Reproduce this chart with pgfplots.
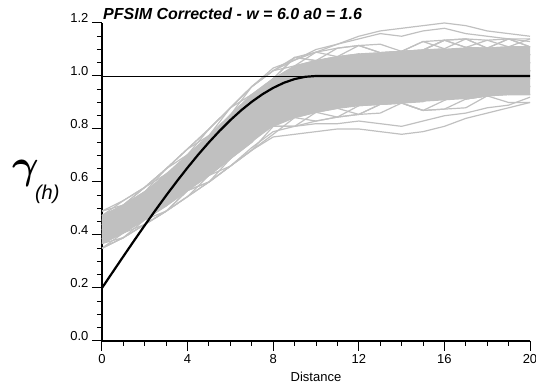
\documentclass[border=0pt]{standalone}
\usepackage{fontspec}
\setmainfont{Liberation Sans}
\usepackage{graphicx}
\usepackage{pgfplots}
\pgfplotsset{compat=1.18}
\definecolor{lgray}{RGB}{192,192,192}
\begin{document}
\begin{tikzpicture}[x=1pt,y=1pt]
\useasboundingbox (-102,-46) rectangle (434,341);
\begin{axis}[
  at={(0,0)}, anchor=south west,
  width=428pt, height=318pt, scale only axis,
  xmin=0, xmax=20, ymin=0, ymax=1.2,
  axis lines=left, axis line style={-, line width=1.4pt},
  xtick={0,4,8,12,16,20}, ytick={0,0.2,0.4,0.6,0.8,1.0,1.2},
  minor x tick num=3, minor y tick num=3,
  tick align=outside, major tick length=10pt, minor tick length=5pt,
  tick style={black, line width=1pt},
  ticklabel style={font=\fontsize{13}{13}\selectfont},
  /pgf/number format/assume math mode=true,
  yticklabel style={anchor=base east, font=\fontsize{13}{13}\selectfont, /pgf/number format/.cd, fixed, fixed zerofill, precision=1},
  xlabel={Distance},
  xlabel style={font=\fontsize{13}{13}\selectfont, at={(axis description cs:0.5,0)}, anchor=base, yshift=-41pt},
  gr/.style={color=lgray, line width=1.2pt},
]
% dense core of the realisation band
\addplot[fill=lgray, draw=none] coordinates {(0,.473)(1,.513)(2,.563)(3,.63)(4,.703)(5,.775)(6,.853)(7,.93)(8,.99)(9,1.038)(10,1.058)(11,1.073)(12,1.083)(13,1.088)(14,1.093)(15,1.098)(16,1.103)(17,1.108)(18,1.105)(19,1.11)(20,1.11)(20,.93)(19,.93)(18,.925)(17,.913)(16,.908)(15,.903)(14,.898)(13,.893)(12,.888)(11,.878)(10,.863)(9,.843)(8,.81)(7,.75)(6,.688)(5,.625)(4,.568)(3,.51)(2,.458)(1,.408)(0,.368)} -- cycle;
\addplot[gr] coordinates {(0,.49)(1,.53)(2,.58)(3,.63)(4,.703)(5,.80)(6,.88)(7,.96)(8,1.02)(9,1.038)(10,1.058)(11,1.105)(12,1.115)(13,1.088)(14,1.093)(15,1.13)(16,1.135)(17,1.14)(18,1.105)(19,1.11)(20,1.14)};
\addplot[gr] coordinates {(0,.473)(1,.513)(2,.58)(3,.65)(4,.725)(5,.775)(6,.853)(7,.93)(8,.96)(9,1.005)(10,1.058)(11,1.073)(12,1.115)(13,1.12)(14,1.093)(15,1.098)(16,1.07)(17,1.075)(18,1.105)(19,1.11)(20,1.11)};
\addplot[gr] coordinates {(0,.455)(1,.513)(2,.563)(3,.63)(4,.68)(5,.75)(6,.825)(7,.93)(8,.99)(9,1.07)(10,1.09)(11,1.073)(12,1.083)(13,1.055)(14,1.06)(15,1.098)(16,1.103)(17,1.14)(18,1.135)(19,1.14)(20,1.11)};
\addplot[gr] coordinates {(0,.455)(1,.495)(2,.545)(3,.59)(4,.658)(5,.75)(6,.825)(7,.90)(8,.93)(9,.973)(10,1.025)(11,1.04)(12,1.083)(13,1.088)(14,1.06)(15,1.065)(16,1.038)(17,1.043)(18,1.075)(19,1.08)(20,1.08)};
\addplot[gr] coordinates {(0,.438)(1,.478)(2,.545)(3,.61)(4,.68)(5,.725)(6,.798)(7,.87)(8,.96)(9,1.005)(10,.993)(11,1.008)(12,.985)(13,.99)(14,1.028)(15,1.033)(16,1.07)(17,1.075)(18,1.045)(19,1.05)(20,1.02)};
\addplot[gr] coordinates {(0,.438)(1,.478)(2,.528)(3,.57)(4,.635)(5,.725)(6,.798)(7,.90)(8,.96)(9,1.038)(10,1.058)(11,1.04)(12,1.05)(13,1.023)(14,1.028)(15,1.0)(16,1.005)(17,1.043)(18,1.045)(19,1.08)(20,1.08)};
\addplot[gr] coordinates {(0,.42)(1,.46)(2,.528)(3,.59)(4,.658)(5,.70)(6,.77)(7,.84)(8,.87)(9,.908)(10,.96)(11,.975)(12,1.018)(13,1.023)(14,.995)(15,1.0)(16,.973)(17,.978)(18,1.015)(19,1.02)(20,1.05)};
\addplot[gr] coordinates {(0,.42)(1,.46)(2,.51)(3,.55)(4,.613)(5,.70)(6,.77)(7,.87)(8,.93)(9,.94)(10,.96)(11,.943)(12,.953)(13,.99)(14,.995)(15,1.033)(16,1.038)(17,1.075)(18,1.075)(19,1.05)(20,1.05)};
\addplot[gr] coordinates {(0,.403)(1,.443)(2,.51)(3,.57)(4,.635)(5,.675)(6,.743)(7,.81)(8,.90)(9,.94)(10,.928)(11,.943)(12,.92)(13,.925)(14,.963)(15,.968)(16,1.005)(17,1.01)(18,.985)(19,.99)(20,1.02)};
\addplot[gr] coordinates {(0,.403)(1,.443)(2,.493)(3,.53)(4,.59)(5,.675)(6,.743)(7,.84)(8,.90)(9,.973)(10,.993)(11,.975)(12,.985)(13,.958)(14,.963)(15,.935)(16,.94)(17,.978)(18,.985)(19,1.02)(20,1.02)};
\addplot[gr] coordinates {(0,.385)(1,.425)(2,.493)(3,.55)(4,.613)(5,.65)(6,.715)(7,.78)(8,.87)(9,.908)(10,.895)(11,.91)(12,.888)(13,.893)(14,.93)(15,.935)(16,.973)(17,.978)(18,.955)(19,.96)(20,.99)};
\addplot[gr] coordinates {(0,.385)(1,.425)(2,.475)(3,.51)(4,.568)(5,.65)(6,.715)(7,.81)(8,.87)(9,.875)(10,.895)(11,.943)(12,.953)(13,.99)(14,.995)(15,.968)(16,.973)(17,.945)(18,.955)(19,.99)(20,.99)};
\addplot[gr] coordinates {(0,.368)(1,.408)(2,.475)(3,.53)(4,.59)(5,.625)(6,.688)(7,.75)(8,.84)(9,.875)(10,.863)(11,.878)(12,.855)(13,.86)(14,.898)(15,.903)(16,.94)(17,.945)(18,.925)(19,.93)(20,.96)};
\addplot[gr] coordinates {(0,.368)(1,.408)(2,.458)(3,.49)(4,.545)(5,.625)(6,.688)(7,.78)(8,.84)(9,.908)(10,.928)(11,.91)(12,.92)(13,.893)(14,.898)(15,.87)(16,.875)(17,.913)(18,.925)(19,.96)(20,.96)};
\addplot[gr] coordinates {(0,.35)(1,.39)(2,.458)(3,.51)(4,.568)(5,.60)(6,.66)(7,.72)(8,.81)(9,.843)(10,.83)(11,.845)(12,.855)(13,.893)(14,.898)(15,.935)(16,.94)(17,.913)(18,.925)(19,.90)(20,.90)};
\addplot[gr] coordinates {(0,.35)(1,.39)(2,.44)(3,.49)(4,.568)(5,.625)(6,.66)(7,.72)(8,.78)(9,.843)(10,.863)(11,.91)(12,.92)(13,.893)(14,.898)(15,.87)(16,.875)(17,.88)(18,.925)(19,.93)(20,.93)};
\addplot[gr] coordinates {(0,.49)(1,.513)(2,.563)(3,.61)(4,.68)(5,.775)(6,.853)(7,.96)(8,1.02)(9,1.07)(10,1.058)(11,1.073)(12,1.05)(13,1.055)(14,1.093)(15,1.098)(16,1.135)(17,1.14)(18,1.105)(19,1.08)(20,1.08)};
\addplot[gr] coordinates {(0,.473)(1,.495)(2,.545)(3,.61)(4,.703)(5,.775)(6,.88)(7,.93)(8,.96)(9,1.005)(10,.993)(11,1.008)(12,1.05)(13,1.055)(14,1.093)(15,1.098)(16,1.135)(17,1.108)(18,1.075)(19,1.08)(20,1.11)};
\addplot[gr] coordinates {(0,.455)(1,.478)(2,.528)(3,.59)(4,.68)(5,.75)(6,.853)(7,.93)(8,.96)(9,.973)(10,.993)(11,.975)(12,.985)(13,1.023)(14,1.028)(15,1.065)(16,1.07)(17,1.108)(18,1.105)(19,1.14)(20,1.11)};
\addplot[gr] coordinates {(0,.438)(1,.46)(2,.51)(3,.57)(4,.658)(5,.725)(6,.825)(7,.90)(8,.93)(9,.94)(10,.96)(11,.943)(12,.953)(13,.99)(14,.995)(15,1.033)(16,1.038)(17,1.075)(18,1.075)(19,1.05)(20,1.05)};
\addplot[gr] coordinates {(0,.42)(1,.443)(2,.493)(3,.55)(4,.635)(5,.70)(6,.798)(7,.87)(8,.90)(9,.908)(10,.928)(11,.91)(12,.92)(13,.958)(14,.963)(15,1.0)(16,1.005)(17,1.043)(18,1.045)(19,1.02)(20,.99)};
\addplot[gr] coordinates {(0,.403)(1,.425)(2,.475)(3,.53)(4,.613)(5,.675)(6,.77)(7,.84)(8,.87)(9,.875)(10,.895)(11,.878)(12,.888)(13,.925)(14,.93)(15,.968)(16,.973)(17,1.01)(18,1.015)(19,.99)(20,.96)};
\addplot[gr] coordinates {(0,.385)(1,.408)(2,.458)(3,.51)(4,.59)(5,.65)(6,.743)(7,.81)(8,.84)(9,.843)(10,.863)(11,.845)(12,.855)(13,.893)(14,.898)(15,.935)(16,.94)(17,.978)(18,.985)(19,.96)(20,.96)};
\addplot[gr] coordinates {(0,.368)(1,.39)(2,.44)(3,.49)(4,.568)(5,.625)(6,.715)(7,.78)(8,.81)(9,.81)(10,.83)(11,.845)(12,.888)(13,.893)(14,.93)(15,.935)(16,.973)(17,.978)(18,.955)(19,.93)(20,.93)};
\addplot[gr] coordinates {(0,.473)(1,.53)(2,.58)(3,.65)(4,.703)(5,.775)(6,.825)(7,.90)(8,.99)(9,1.038)(10,1.09)(11,1.105)(12,1.115)(13,1.088)(14,1.093)(15,1.065)(16,1.07)(17,1.108)(18,1.105)(19,1.14)(20,1.14)};
\addplot[gr] coordinates {(0,.42)(1,.478)(2,.528)(3,.59)(4,.635)(5,.70)(6,.743)(7,.81)(8,.90)(9,.973)(10,.993)(11,1.04)(12,1.05)(13,1.023)(14,1.028)(15,1.0)(16,1.005)(17,.978)(18,.985)(19,1.02)(20,1.02)};
\addplot[gr] coordinates {(0,.385)(1,.443)(2,.493)(3,.55)(4,.59)(5,.65)(6,.688)(7,.75)(8,.84)(9,.908)(10,.928)(11,.975)(12,.985)(13,.958)(14,.963)(15,.935)(16,.94)(17,.913)(18,.925)(19,.96)(20,.96)};
\addplot[gr] coordinates {(0,.438)(1,.495)(2,.545)(3,.63)(4,.68)(5,.725)(6,.77)(7,.84)(8,.93)(9,1.005)(10,1.025)(11,1.073)(12,1.083)(13,1.055)(14,1.028)(15,1.0)(16,1.005)(17,1.043)(18,1.075)(19,1.08)(20,1.05)};
\addplot[gr] coordinates {(0,.403)(1,.46)(2,.51)(3,.59)(4,.658)(5,.70)(6,.743)(7,.81)(8,.90)(9,.973)(10,1.025)(11,1.04)(12,1.018)(13,.99)(14,.995)(15,.968)(16,1.005)(17,1.043)(18,1.045)(19,1.02)(20,1.02)};
\addplot[gr] coordinates {(0,.455)(1,.495)(2,.528)(3,.59)(4,.635)(5,.725)(6,.825)(7,.93)(8,.99)(9,1.005)(10,.993)(11,1.008)(12,1.05)(13,1.088)(14,1.093)(15,1.13)(16,1.103)(17,1.075)(18,1.075)(19,1.11)(20,1.08)};
\addplot[gr] coordinates {(0,.368)(1,.425)(2,.475)(3,.55)(4,.59)(5,.625)(6,.688)(7,.78)(8,.87)(9,.875)(10,.863)(11,.878)(12,.92)(13,.958)(14,.963)(15,1.0)(16,.973)(17,.945)(18,.955)(19,.93)(20,.93)};
\addplot[gr] coordinates {(0,.42)(1,.443)(2,.493)(3,.53)(4,.613)(5,.70)(6,.798)(7,.84)(8,.87)(9,.94)(10,.96)(11,1.008)(12,1.018)(13,1.055)(14,1.028)(15,1.0)(16,.973)(17,.978)(18,1.015)(19,1.05)(20,1.05)};
\addplot[gr] coordinates {(0,.473)(1,.495)(2,.563)(3,.61)(4,.703)(5,.75)(6,.798)(7,.90)(8,.99)(9,1.07)(10,1.058)(11,1.04)(12,1.083)(13,1.055)(14,1.06)(15,1.098)(16,1.135)(17,1.108)(18,1.135)(19,1.11)(20,1.08)};
\addplot[gr] coordinates {(0,.35)(1,.408)(2,.458)(3,.53)(4,.568)(5,.60)(6,.688)(7,.78)(8,.81)(9,.81)(10,.863)(11,.91)(12,.953)(13,.925)(14,.898)(15,.87)(16,.908)(17,.945)(18,.925)(19,.96)(20,.96)};
\addplot[gr] coordinates {(0,.438)(1,.495)(2,.528)(3,.57)(4,.658)(5,.75)(6,.853)(7,.90)(8,.93)(9,.94)(10,.928)(11,.975)(12,1.018)(13,.99)(14,.963)(15,1.0)(16,1.038)(17,1.075)(18,1.045)(19,1.02)(20,1.02)};
\addplot[gr] coordinates {(0,.385)(1,.425)(2,.493)(3,.57)(4,.613)(5,.65)(6,.743)(7,.84)(8,.93)(9,.94)(10,.928)(11,.91)(12,.953)(13,.99)(14,1.028)(15,1.065)(16,1.038)(17,1.01)(18,.985)(19,.99)(20,1.02)};
\addplot[gr] coordinates {(0,.473)(1,.513)(2,.58)(3,.65)(4,.725)(5,.80)(6,.88)(7,.96)(8,1.02)(9,1.06)(10,1.09)(11,1.12)(12,1.15)(13,1.17)(14,1.18)(15,1.19)(16,1.20)(17,1.19)(18,1.17)(19,1.16)(20,1.15)};
\addplot[gr] coordinates {(0,.455)(1,.513)(2,.563)(3,.65)(4,.725)(5,.80)(6,.88)(7,.96)(8,1.03)(9,1.06)(10,1.10)(11,1.12)(12,1.14)(13,1.16)(14,1.15)(15,1.17)(16,1.18)(17,1.16)(18,1.15)(19,1.14)(20,1.13)};
\addplot[gr] coordinates {(0,.35)(1,.39)(2,.44)(3,.49)(4,.545)(5,.60)(6,.66)(7,.72)(8,.77)(9,.78)(10,.79)(11,.80)(12,.80)(13,.79)(14,.78)(15,.79)(16,.81)(17,.84)(18,.86)(19,.88)(20,.90)};
\addplot[gr] coordinates {(0,.368)(1,.408)(2,.44)(3,.49)(4,.545)(5,.60)(6,.66)(7,.73)(8,.79)(9,.81)(10,.82)(11,.82)(12,.83)(13,.82)(14,.81)(15,.83)(16,.85)(17,.86)(18,.88)(19,.89)(20,.92)};
\addplot[black, line width=0.8pt] coordinates {(0,1)(20,1)};
\addplot[black, line width=2.2pt, line join=round] coordinates {(0,0.2)(0.5,0.26)(1,0.3196)(1.5,0.3787)(2,0.4368)(2.5,0.4938)(3,0.5492)(3.5,0.6028)(4,0.6544)(4.5,0.7036)(5,0.75)(5.5,0.7934)(6,0.8336)(6.5,0.8702)(7,0.9028)(7.5,0.9312)(8,0.9552)(8.5,0.9744)(9,0.9884)(9.5,0.997)(10,1.0)(20,1.0)};
\end{axis}
\node[anchor=base west, inner sep=0pt, font=\fontsize{16}{16}\selectfont\bfseries\itshape] at (1,321) {PFSIM Corrected - w = 6.0 a0 = 1.6};
\node[anchor=base west, inner sep=0pt] at (-90,162) {\scalebox{4.1}{\boldmath$\gamma$}\kern-4pt\raisebox{-21pt}{\fontsize{20}{20}\selectfont\itshape (h)}};
\end{tikzpicture}
\end{document}
